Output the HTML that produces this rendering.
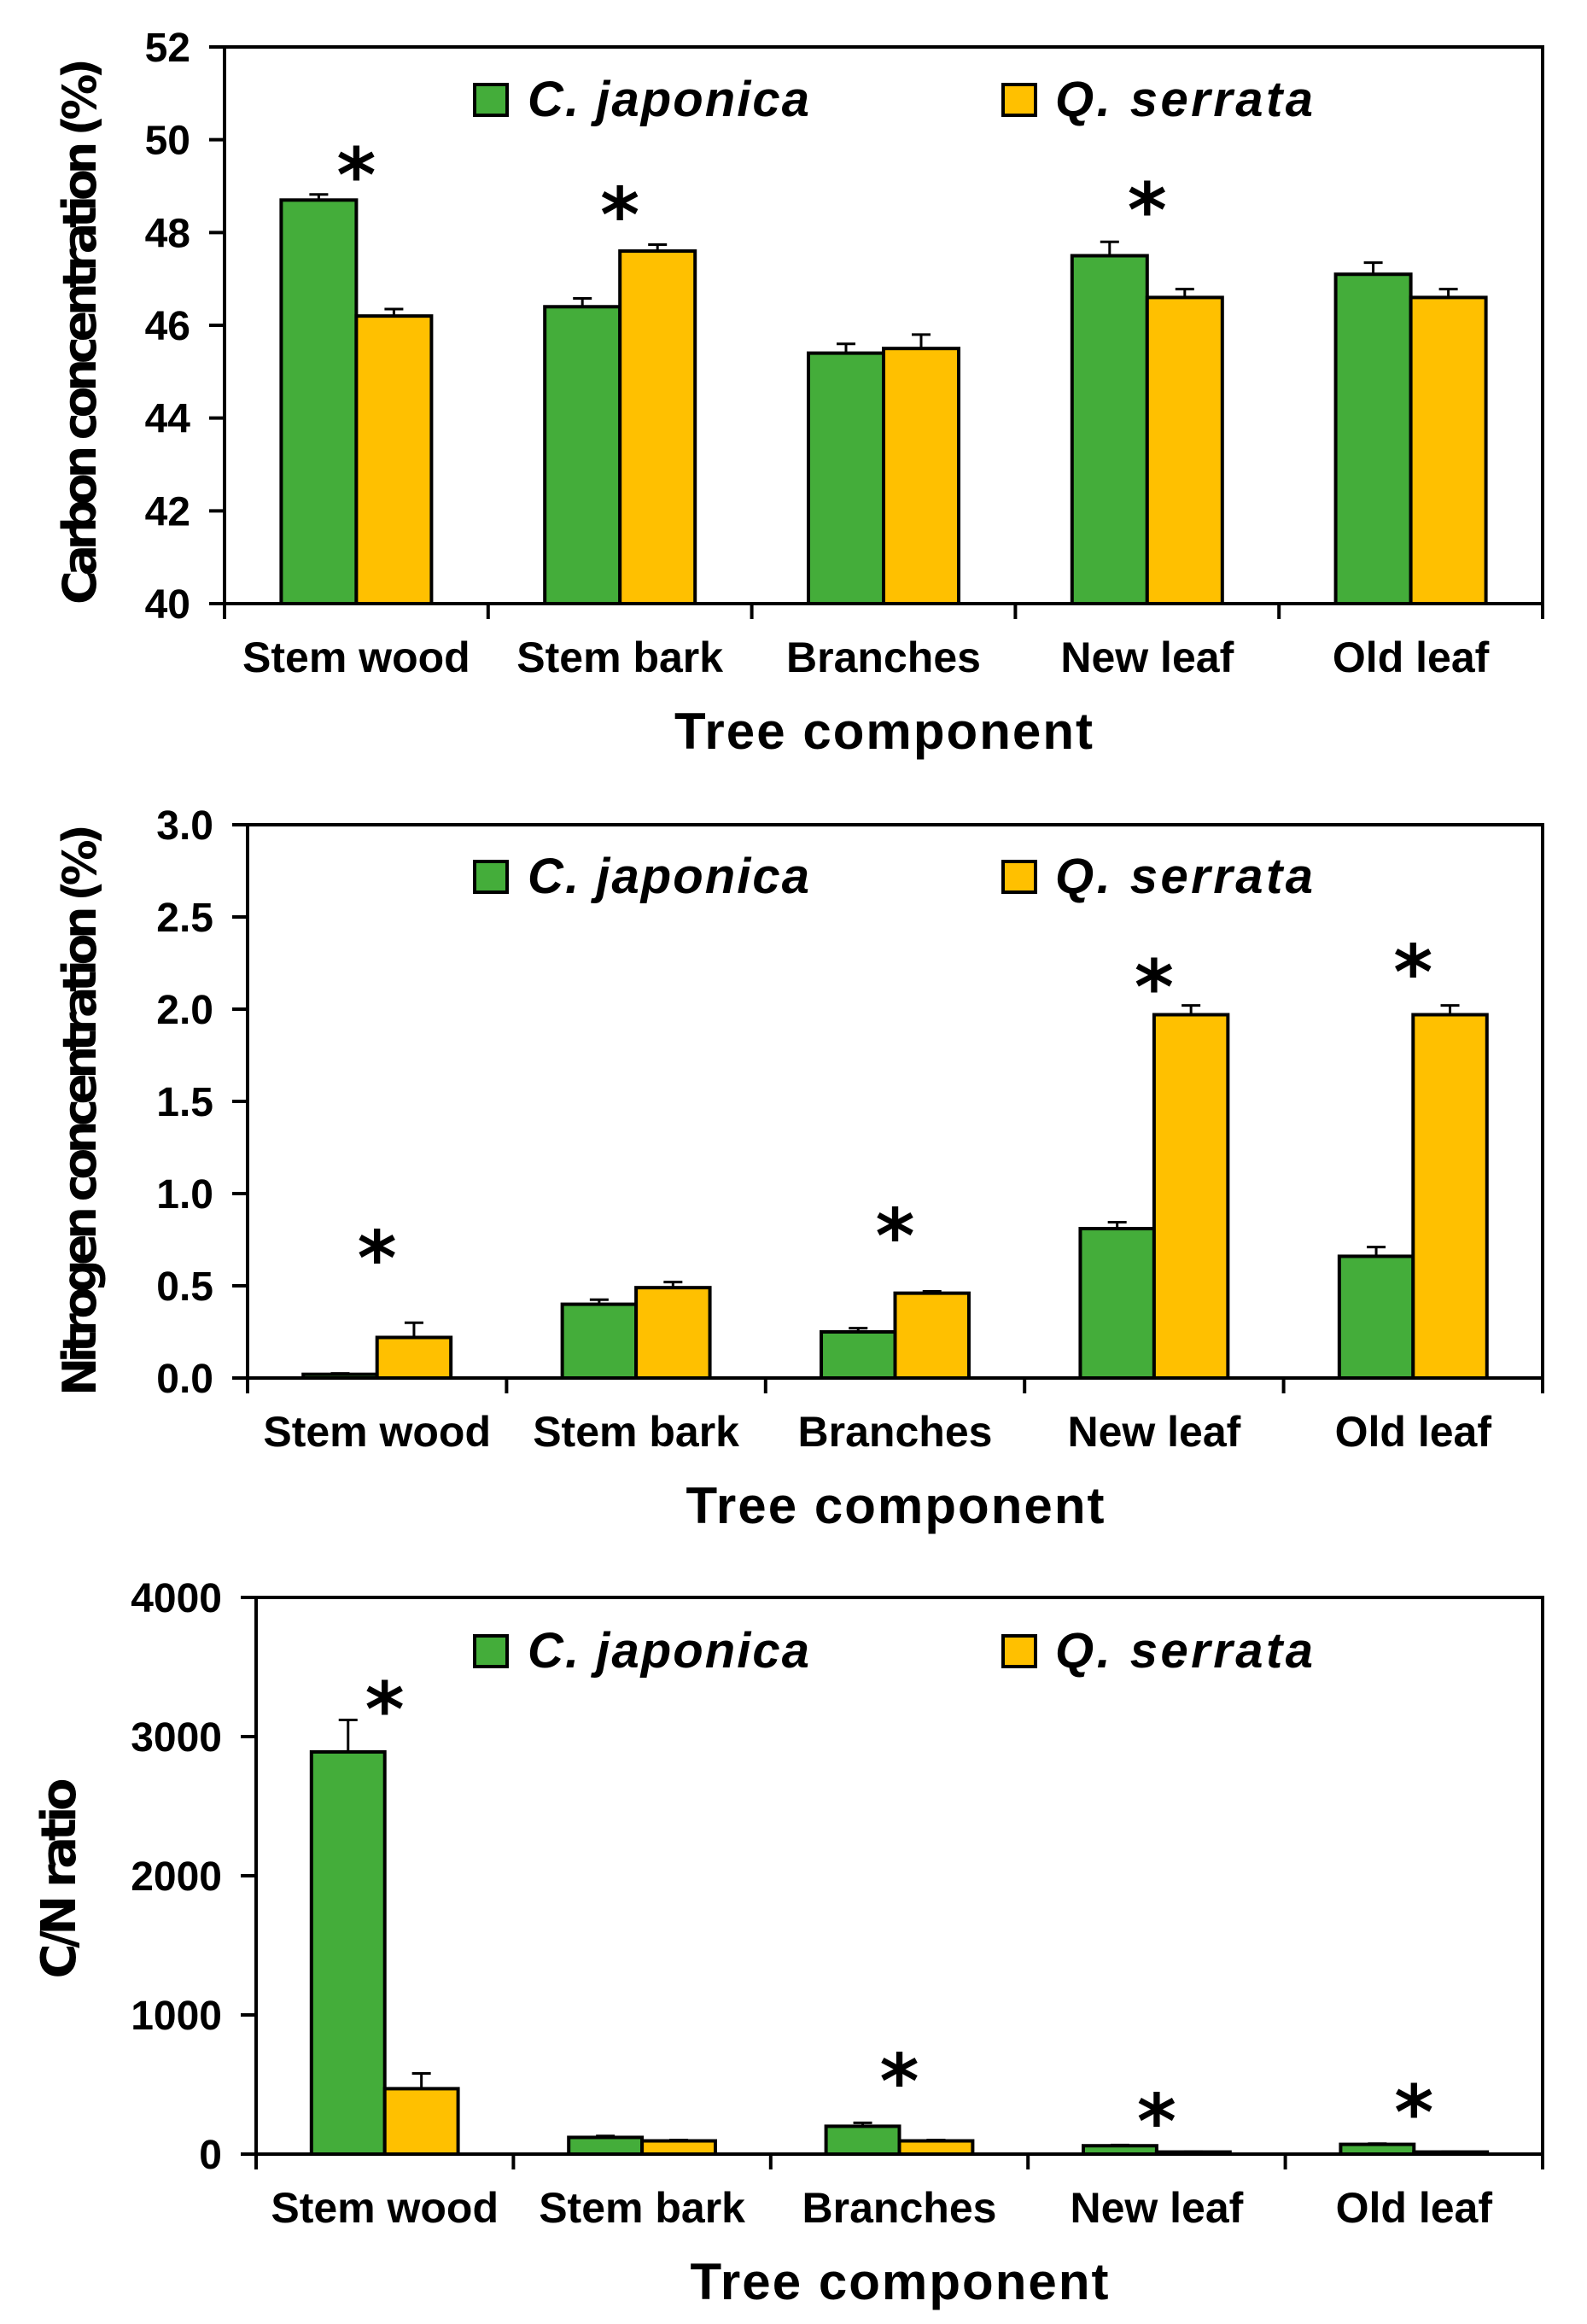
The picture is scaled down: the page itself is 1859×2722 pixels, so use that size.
<!DOCTYPE html>
<html><head><meta charset="utf-8">
<style>
html,body{margin:0;padding:0;background:#fff;}
svg{display:block;}
</style></head>
<body>
<svg id="fig" width="1859" height="2722" viewBox="0 0 1859 2722" xmlns="http://www.w3.org/2000/svg"></svg>
<script>
const categories = ["Stem wood","Stem bark","Branches","New leaf","Old leaf"];
const seriesNames = ["C. japonica","Q. serrata"];

const carbonCj = [48.7, 46.4, 45.4, 47.5, 47.1];
const carbonCjErr = [0.12, 0.18, 0.2, 0.3, 0.25];
const carbonQs = [46.2, 47.6, 45.5, 46.6, 46.6];
const carbonQsErr = [0.15, 0.14, 0.3, 0.18, 0.18];
const carbonStars = [49.55, 48.7, null, 48.8, null];
const carbonTicks = [40, 42, 44, 46, 48, 50, 52];
const carbonTickLabels = ["40","42","44","46","48","50","52"];

const nitroCj = [0.02, 0.40, 0.25, 0.81, 0.66];
const nitroCjErr = [0.005, 0.025, 0.02, 0.035, 0.05];
const nitroQs = [0.22, 0.49, 0.46, 1.97, 1.97];
const nitroQsErr = [0.08, 0.03, 0.01, 0.05, 0.05];
const nitroStars = [0.73, null, 0.85, 2.2, 2.28];
const nitroTicks = [0, 0.5, 1.0, 1.5, 2.0, 2.5, 3.0];
const nitroTickLabels = ["0.0","0.5","1.0","1.5","2.0","2.5","3.0"];

const cnCj = [2890, 120, 200, 60, 70];
const cnCjErr = [230, 10, 25, 5, 5];
const cnQs = [470, 95, 95, 15, 15];
const cnQsErr = [110, 6, 6, 3, 3];
const cnStars = [3300, null, 630, 340, 405];
const cnTicks = [0, 1000, 2000, 3000, 4000];
const cnTickLabels = ["0","1000","2000","3000","4000"];

const NS = "http://www.w3.org/2000/svg";
const svg = document.getElementById('fig');
function mk(tag, attrs, parent){
  const e = document.createElementNS(NS, tag);
  for (const k in attrs) e.setAttribute(k, attrs[k]);
  (parent||svg).appendChild(e);
  return e;
}

function drawChart(cfg){
  const g = mk('g', {});
  
  
  const L=cfg.left, R=cfg.right, T=cfg.top, B=cfg.bottom;
  const ymin=cfg.ticks[0], ymax=cfg.ticks[cfg.ticks.length-1];
  const yS = v => B - (v-ymin)/(ymax-ymin)*(B-T);
  const cw = (R-L)/categories.length;
  const bw = cw*0.285;
  const xC = i => L + cw*(i+0.5);

  const fr = mk('rect', {x:L, y:T, width:R-L, height:B-T, fill:'none', stroke:'#000', 'stroke-width':4}, g);
  
  

  cfg.ticks.forEach((t,i)=>{
    const y=yS(t);
    const tk = mk('line', {x1:L-18, x2:L, y1:y, y2:y, stroke:'#000','stroke-width':4}, g);
    
    
    const tl = mk('text', {x:L-40, y:y+17, 'text-anchor':'end', 'font-family':'Liberation Sans, sans-serif', 'font-weight':'bold', 'font-size':48}, g);
    tl.textContent = cfg.tickLabels[i];
    
    
  });
  for(let i=0;i<=categories.length;i++){
    const x=L+cw*i;
    const tk = mk('line', {x1:x, x2:x, y1:B, y2:B+18, stroke:'#000','stroke-width':4}, g);
    
    
  }

  categories.forEach((c,i)=>{
    const series=[[cfg.cj,cfg.cjErr,'#44ad3a',-1],[cfg.qs,cfg.qsErr,'#ffc000',0]];
    series.forEach((s,si)=>{
      const v=s[0][i], e=s[1][i];
      const x = xC(i) + s[3]*bw;
      const y0 = yS(Math.max(v, ymin));
      const ye = yS(v+e);
      const el = mk('line', {x1:x+bw/2, x2:x+bw/2, y1:y0, y2:ye, stroke:'#000','stroke-width':3}, g);
      
      
      const ec = mk('line', {x1:x+bw/2-11, x2:x+bw/2+11, y1:ye, y2:ye, stroke:'#000','stroke-width':3}, g);
      
      
      const r = mk('rect', {x:x, y:y0, width:bw, height:Math.max(B-y0,0), fill:s[2], stroke:'#000','stroke-width':4}, g);
      
      
    });
    if(cfg.stars[i]!==null){
      const st = mk('text', {x:xC(i), y:yS(cfg.stars[i])+48, 'text-anchor':'middle', 'font-family':'DejaVu Sans, sans-serif', 'font-weight':'bold', 'font-size':88}, g);
      st.textContent='*';
      
      
    }
    const xl = mk('text', {x:xC(i), y:B+80, 'text-anchor':'middle', 'font-family':'Liberation Sans, sans-serif', 'font-weight':'bold', 'font-size':50}, g);
    xl.textContent=c;
    
    
  });

  const xt = mk('text', {x:(L+R)/2, y:B+170, 'text-anchor':'middle', 'font-family':'Liberation Sans, sans-serif', 'font-weight':'bold', 'font-size':60, textLength:490}, g);
  xt.textContent='Tree component';
  
  
  const yt = mk('text', {x:0, y:0, 'text-anchor':'middle', 'font-family':'DejaVu Sans, sans-serif', 'font-weight':'bold', 'font-size':cfg.ytSize, transform:`translate(${cfg.ytX},${cfg.ytY}) rotate(-90)`}, g);
  yt.textContent=cfg.ytitle;
  if(cfg.ytLen) yt.setAttribute('textLength', cfg.ytLen);
  
  

  const lg = mk('g', {}, g);
  
  
  const ly = cfg.legY;
  [[556,'#44ad3a',618,seriesNames[0],330],[1175,'#ffc000',1236,seriesNames[1],302]].forEach(l=>{
    const sq = mk('rect', {x:l[0], y:ly, width:38, height:36, fill:l[1], stroke:'#000','stroke-width':4}, lg);
    
    
    const lt = mk('text', {x:l[2], y:ly+37, 'font-family':'Liberation Sans, sans-serif', 'font-weight':'bold', 'font-style':'italic', 'font-size':58, textLength:l[4]}, lg);
    lt.textContent=l[3];
    
    
  });
}

drawChart({name:'carbon-chart', left:263, right:1807, top:55, bottom:707, ticks:carbonTicks, tickLabels:carbonTickLabels,
  cj:carbonCj, cjErr:carbonCjErr, qs:carbonQs, qsErr:carbonQsErr, stars:carbonStars,
  ytitle:'Carbon concentration (%)', ytX:112, ytY:388, ytSize:54, ytLen:640, legY:99});
drawChart({name:'nitrogen-chart', left:290, right:1807, top:966, bottom:1614, ticks:nitroTicks, tickLabels:nitroTickLabels,
  cj:nitroCj, cjErr:nitroCjErr, qs:nitroQs, qsErr:nitroQsErr, stars:nitroStars,
  ytitle:'Nitrogen concentration (%)', ytX:112, ytY:1300, ytSize:54, ytLen:670, legY:1009});
drawChart({name:'cn-ratio-chart', left:300, right:1807, top:1871, bottom:2523, ticks:cnTicks, tickLabels:cnTickLabels,
  cj:cnCj, cjErr:cnCjErr, qs:cnQs, qsErr:cnQsErr, stars:cnStars,
  ytitle:'C/N ratio', ytX:88, ytY:2200, ytSize:56, ytLen:235, legY:1916});
</script>
</body></html>
